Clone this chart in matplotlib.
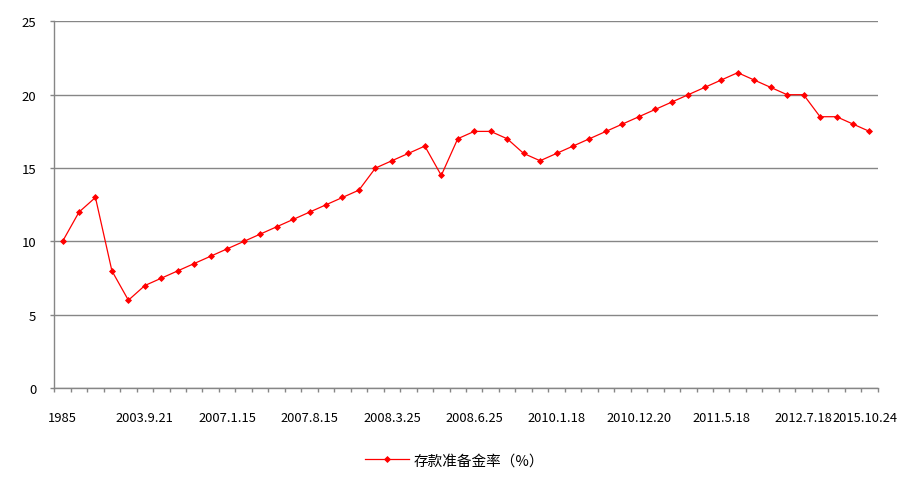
import numpy as np
import matplotlib
matplotlib.use("Agg")
import matplotlib.pyplot as plt
import matplotlib.transforms as mtransforms
from matplotlib.ticker import FixedLocator, NullFormatter

plt.rcParams['font.family'] = ['Noto Sans CJK SC', 'DejaVu Sans']

# reserve ratio (%) for each adjustment, in order
rates = [10, 12, 13, 8, 6, 7, 7.5, 8, 8.5, 9,
         9.5, 10, 10.5, 11, 11.5, 12, 12.5, 13, 13.5, 15,
         15.5, 16, 16.5, 14.5, 17, 17.5, 17.5, 17, 16, 15.5,
         16, 16.5, 17, 17.5, 18, 18.5, 19, 19.5, 20, 20.5,
         21, 21.5, 21, 20.5, 20, 20, 18.5, 18.5, 18, 17.5]

tick_idx = [0, 5, 10, 15, 20, 25, 30, 35, 40, 45, 49]
tick_labels = ["1985", "2003.9.21", "2007.1.15", "2007.8.15", "2008.3.25",
               "2008.6.25", "2010.1.18", "2010.12.20", "2011.5.18",
               "2012.7.18", "2015.10.24"]

series_name = "存款准备金率（%）"

gray = "#868686"

fig = plt.figure(figsize=(9, 4.89), dpi=100)
ax = fig.add_axes([0.0603, 0.2039, 0.9149, 0.7505])

x = np.arange(len(rates))
ax.plot(x, rates, color="#ff0000", lw=0.9, marker="D", markersize=3.0,
        markeredgewidth=0.6, label=series_name)

ax.set_xlim(-0.5, len(rates) - 0.5)
ax.set_ylim(0, 25)
ax.set_yticks([0, 5, 10, 15, 20, 25])
ax.yaxis.grid(True, color=gray, lw=1)
ax.set_axisbelow(True)

ax.set_xticks(tick_idx)
ax.set_xticklabels(tick_labels)
ax.xaxis.set_minor_locator(FixedLocator(np.arange(-0.5, len(rates), 1)))
ax.xaxis.set_minor_formatter(NullFormatter())
ax.tick_params(axis="x", which="major", length=0, pad=16, labelsize=9.3,
               colors="black")
ax.tick_params(axis="x", which="minor", length=3, width=1, color=gray)
ax.tick_params(axis="y", length=3, width=1, color=gray, pad=10,
               labelsize=9.5)

# keep the last date label inside the picture
last = ax.get_xticklabels()[-1]
last.set_transform(last.get_transform() +
                   mtransforms.ScaledTranslation(-4 / 100, 0, fig.dpi_scale_trans))

for s in ["top", "right"]:
    ax.spines[s].set_visible(False)
for s in ["left", "bottom"]:
    ax.spines[s].set_color(gray)
    ax.spines[s].set_linewidth(1)

fig.legend(loc="center", bbox_to_anchor=(0.505, 0.057), frameon=False,
           fontsize=10.5, handlelength=3.0, handletextpad=0.3)

fig.savefig("out.png", dpi=100)
